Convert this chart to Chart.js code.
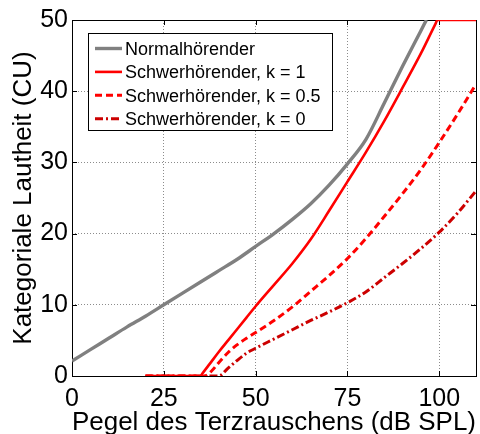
<!DOCTYPE html>
<html>
<head>
<meta charset="utf-8">
<script src="https://cdn.jsdelivr.net/npm/chart.js@4"></script>
<style>
  html, body { margin: 0; padding: 0; background: #fff; }
  #wrap { position: relative; width: 480px; height: 434px; }
</style>
</head>
<body>
<div id="wrap"><canvas id="c" width="480" height="434"></canvas></div>
<script>
// ---- data ----
const xTicks = [0, 25, 50, 75, 100];
const yTicks = [0, 10, 20, 30, 40, 50];

const xNormal = [0, 5, 10, 15, 20, 25, 30, 35, 40, 45, 50, 55, 60, 65, 70, 75, 80, 85, 90, 95, 96.5];
const yNormal = [2.1, 3.7, 5.3, 6.9, 8.4, 10.0, 11.6, 13.2, 14.8, 16.4, 18.2, 20.0, 22.0, 24.2, 26.8, 29.8, 33.2, 38.3, 43.5, 48.5, 50];

const xK1 = [20, 25, 30, 35, 35.5, 37.5, 40, 42.5, 45, 47.5, 50, 55, 60, 65, 70, 75, 80, 85, 90, 95, 99, 99.5, 105, 110];
const yK1 = [0, 0, 0, 0, 0.35, 1.7, 3.4, 5.0, 6.6, 8.2, 9.8, 12.8, 15.8, 19.2, 23.2, 27.3, 31.4, 35.8, 40.5, 45.3, 49.5, 50, 50, 50];

const xK05 = [20, 25, 30, 35, 36, 38, 40, 42.5, 45, 47.5, 50, 55, 60, 65, 70, 75, 80, 85, 90, 95, 100, 105, 110];
const yK05 = [0, 0, 0, 0, 0, 0.7, 1.9, 3.3, 4.4, 5.3, 6.1, 7.8, 9.7, 11.9, 14.1, 16.5, 19.3, 22.4, 25.6, 29.0, 32.8, 36.8, 41.0];

const xK0 = [20, 25, 30, 35, 40, 42.5, 45, 47.5, 50, 55, 60, 65, 70, 75, 80, 85, 90, 95, 100, 105, 110];
const yK0 = [0, 0, 0, 0, 0, 1.1, 2.2, 3.2, 3.9, 5.2, 6.5, 7.8, 9.0, 10.3, 11.8, 13.8, 15.8, 17.9, 20.2, 22.9, 26.0];

const labels = ['Normalhörender', 'Schwerhörender, k = 1', 'Schwerhörender, k = 0.5', 'Schwerhörender, k = 0'];
const xTitle = 'Pegel des Terzrauschens (dB SPL)';
const yTitle = 'Kategoriale Lautheit (CU)';

const pts = (xs, ys) => xs.map((x, i) => ({ x: x, y: ys[i] }));
const FONT = 'Arial, "Liberation Sans", sans-serif';

const frameAndTicks = {
  id: 'frameAndTicks',
  beforeDatasetsDraw(chart) {
    const { ctx, chartArea: a, scales } = chart;
    ctx.save();
    ctx.strokeStyle = '#000';
    ctx.lineWidth = 1;
    ctx.setLineDash([]);
    ctx.beginPath();
    const L = 5;
    xTicks.forEach(v => {
      const p = Math.round(scales.x.getPixelForValue(v)) + 0.5;
      ctx.moveTo(p, a.bottom); ctx.lineTo(p, a.bottom - L);
      ctx.moveTo(p, a.top); ctx.lineTo(p, a.top + L);
    });
    yTicks.forEach(v => {
      const p = Math.round(scales.y.getPixelForValue(v)) + 0.5;
      ctx.moveTo(a.left, p); ctx.lineTo(a.left + L, p);
      ctx.moveTo(a.right, p); ctx.lineTo(a.right - L, p);
    });
    ctx.stroke();
    ctx.strokeRect(Math.round(a.left) + 0.5, Math.round(a.top) + 0.5, Math.round(a.right - a.left), Math.round(a.bottom - a.top));
    ctx.restore();
  },
  afterDraw(chart) {
    const { ctx, chartArea: a } = chart;
    const bx = a.left + 16, by = a.top + 13, bw = 244, bh = 97;
    ctx.save();
    ctx.fillStyle = '#fff';
    ctx.fillRect(bx, by, bw, bh);
    ctx.strokeStyle = '#000';
    ctx.lineWidth = 1;
    ctx.setLineDash([]);
    ctx.strokeRect(Math.round(bx) + 0.5, Math.round(by) + 0.5, bw, bh);
    ctx.font = '18px ' + FONT;
    ctx.textBaseline = 'alphabetic';
    ctx.textAlign = 'left';
    chart.data.datasets.forEach((ds, i) => {
      const base = by + 22 + i * 23.4;
      const ly = base - 6.5;
      ctx.save();
      ctx.strokeStyle = ds.borderColor;
      ctx.lineWidth = ds.borderWidth;
      ctx.setLineDash(ds.borderDash || []);
      ctx.beginPath();
      ctx.moveTo(bx + 7, ly);
      ctx.lineTo(bx + 34, ly);
      ctx.stroke();
      ctx.restore();
      ctx.fillStyle = '#000';
      ctx.fillText(ds.label, bx + 37, base);
    });
    ctx.restore();
  }
};

new Chart(document.getElementById('c'), {
  type: 'line',
  data: {
    datasets: [
      { label: labels[0], data: pts(xNormal, yNormal), borderColor: '#808080', borderWidth: 3.4, cubicInterpolationMode: 'monotone' },
      { label: labels[1], data: pts(xK1, yK1), borderColor: '#ff0000', borderWidth: 2.6, cubicInterpolationMode: 'monotone' },
      { label: labels[2], data: pts(xK05, yK05), borderColor: '#ff0000', borderWidth: 3, borderDash: [7, 4], cubicInterpolationMode: 'monotone' },
      { label: labels[3], data: pts(xK0, yK0), borderColor: '#cc0000', borderWidth: 3, borderDash: [8, 3, 2, 3], cubicInterpolationMode: 'monotone' }
    ]
  },
  options: {
    responsive: false,
    animation: false,
    events: [],
    layout: { padding: { top: 20, right: 4, left: 0, bottom: 0 } },
    elements: { point: { radius: 0 }, line: { borderJoinStyle: 'round' } },
    plugins: { legend: { display: false }, tooltip: { enabled: false } },
    scales: {
      x: {
        type: 'linear', min: 0, max: 110,
        afterBuildTicks: s => { s.ticks = xTicks.map(v => ({ value: v })); },
        afterFit: s => { s.height = 58; },
        grid: { color: '#8c8c8c', lineWidth: 1, drawTicks: false },
        border: { display: false, dash: [1, 2] },
        ticks: { color: '#000', font: { family: FONT, size: 25 }, padding: 8, maxRotation: 0, autoSkip: false },
        title: { display: true, text: xTitle, color: '#000', font: { family: FONT, size: 26 }, padding: { top: 0, bottom: -4 } }
      },
      y: {
        type: 'linear', min: 0, max: 50,
        afterBuildTicks: s => { s.ticks = yTicks.map(v => ({ value: v })); },
        afterFit: s => { s.width = 72; },
        grid: { color: '#8c8c8c', lineWidth: 1, drawTicks: false },
        border: { display: false, dash: [1, 2] },
        ticks: { color: '#000', font: { family: FONT, size: 25 }, padding: 4, autoSkip: false },
        title: { display: true, text: yTitle, color: '#000', font: { family: FONT, size: 26 }, padding: { top: 8, bottom: 0 } }
      }
    }
  },
  plugins: [frameAndTicks]
});
</script>
</body>
</html>
